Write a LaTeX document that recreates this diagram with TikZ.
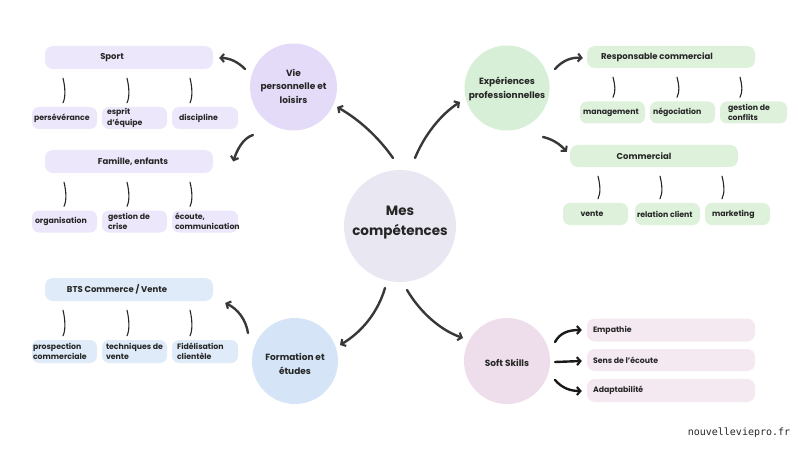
\documentclass[tikz,border=0pt]{standalone}
\usepackage{fontspec}
\setmainfont{Poppins}
\newfontfamily\wmfont{DejaVu Sans Mono}
\usetikzlibrary{arrows.meta,calc}
\definecolor{ink}{HTML}{262626}
\definecolor{arrowc}{HTML}{383838}
\definecolor{arrowk}{HTML}{1A1A1A}
\definecolor{centerc}{HTML}{E9E8F2}
\definecolor{purC}{HTML}{E4DBF8}
\definecolor{purB}{HTML}{ECE7FA}
\definecolor{grnC}{HTML}{D6EFD6}
\definecolor{grnB}{HTML}{DDF1DB}
\definecolor{bluC}{HTML}{D5E5F7}
\definecolor{bluB}{HTML}{DFEBF8}
\definecolor{pnkC}{HTML}{EEDDEA}
\definecolor{pnkB}{HTML}{F4E8F1}
\newcommand\sublink[3]{%
  \path ($(#3,0 |- #1.south)+(0,9)$) coordinate (lt)
        ($(#3,0 |- #2.north)+(0,-4)$) coordinate (lb);
  \draw[link] (lt) .. controls +(2,8) and +(3,-6) .. (lb);}
\begin{document}
\begin{tikzpicture}[x=1pt,y=-1pt,
  circ/.style={circle, minimum size=#1, inner sep=0pt},
  bigbox/.style={rectangle, rounded corners=8pt, minimum width=168pt, minimum height=23pt, inner sep=0pt},
  subbox/.style={rectangle, rounded corners=7pt, minimum width=65pt, minimum height=22pt, inner sep=0pt},
  lbl/.style={font=\bfseries\fontsize{8.5}{13}\selectfont, text=ink, inner sep=0pt, align=center},
  clbl/.style={lbl, font=\bfseries\fontsize{9}{13.5}\selectfont},
  sublbl/.style={font=\bfseries\fontsize{7.8}{10.5}\selectfont, text=ink, inner sep=0pt, align=left, anchor=west},
  arr/.style={draw=arrowc, line width=2.4pt, line cap=round, -{Straight Barb[length=3.5pt,width=8pt,line width=2.1pt]}},
  arrk/.style={arr, draw=arrowk},
  link/.style={draw=ink, line width=1.1pt, line cap=round}]
\useasboundingbox (0,0) rectangle (800,449);
\fill[white] (0,0) rectangle (800,449);

% circles
\node[circ=112pt, fill=centerc] (c) at (400,226) {};
\node[lbl, font=\bfseries\fontsize{13.5}{20}\selectfont] (ct) at (400,223) {Mes\\compétences};
\node[circ=87pt, fill=purC] (vie) at (293.5,87) {};
\node[clbl] at (293.5,86) {Vie\\personnelle et\\loisirs};
\node[circ=85pt, fill=grnC] (exp) at (507,88) {};
\node[clbl] at (507,89) {Expériences\\professionnelles};
\node[circ=86pt, fill=bluC] (form) at (295,361) {};
\node[clbl] at (295,364) {Formation et\\études};
\node[circ=86pt, fill=pnkC] (soft) at (507,361) {};
\node[clbl] at (507,363) {Soft Skills};

% purple group
\node[bigbox, fill=purB] (sport) at (129,57.5) {};
\node[lbl] at (112,57.5) {Sport};
\node[subbox, fill=purB] (persev) at (64.5,118) {};
\node[subbox, fill=purB] (esprit) at (134.5,118) {};
\node[subbox, fill=purB, minimum width=66pt] (discip) at (205,118) {};
\node[sublbl] at ([shift={(2,0)}]persev.west) {persévérance};
\node[sublbl] at ([shift={(5,0)}]esprit.west) {esprit\\d’équipe};
\node[sublbl] at ([shift={(7,0)}]discip.west) {discipline};
\sublink{sport}{persev}{63}
\sublink{sport}{esprit}{127}
\sublink{sport}{discip}{190}

\node[bigbox, fill=purB] (fam) at (129,161.5) {};
\node[lbl] at (133,161.5) {Famille, enfants};
\node[subbox, fill=purB] (orga) at (64.5,221.5) {};
\node[subbox, fill=purB] (crise) at (134.5,221.5) {};
\node[subbox, fill=purB, minimum width=66pt] (ecoute) at (205,221.5) {};
\node[sublbl] at ([shift={(3,0)}]orga.west) {organisation};
\node[sublbl] at ([shift={(6,0)}]crise.west) {gestion de\\crise};
\node[sublbl] at ([shift={(3,0)}]ecoute.west) {écoute,\\communication};
\sublink{fam}{orga}{64}
\sublink{fam}{crise}{127}
\sublink{fam}{ecoute}{190}

% green group
\node[bigbox, fill=grnB, minimum height=22pt] (resp) at (671,57) {};
\node[lbl] at (657,57) {Responsable commercial};
\node[subbox, fill=grnB] (mgmt) at (612.5,112.5) {};
\node[subbox, fill=grnB] (nego) at (682.5,112.5) {};
\node[subbox, fill=grnB, minimum width=67pt] (confl) at (753.5,112.5) {};
\node[sublbl] at ([shift={(3,0)}]mgmt.west) {management};
\node[sublbl] at ([shift={(3,0)}]nego.west) {négociation};
\node[sublbl] at ([shift={(8,0)}]confl.west) {gestion de\\conflits};
\sublink{resp}{mgmt}{613}
\sublink{resp}{nego}{677}
\sublink{resp}{confl}{740}

\node[bigbox, fill=grnB, minimum height=22pt] (comm) at (654,156) {};
\node[lbl] at (644,156) {Commercial};
\node[subbox, fill=grnB] (vente) at (595.5,214) {};
\node[subbox, fill=grnB] (relc) at (667.5,214) {};
\node[subbox, fill=grnB] (mkt) at (737.5,214) {};
\node[sublbl, anchor=center] at (592,214) {vente};
\node[sublbl] at ([shift={(2,0)}]relc.west) {relation client};
\node[sublbl] at ([shift={(7,0)}]mkt.west) {marketing};
\sublink{comm}{vente}{598}
\sublink{comm}{relc}{660}
\sublink{comm}{mkt}{722}

% blue group
\node[bigbox, fill=bluB] (bts) at (129,289.5) {};
\node[lbl] at (117,289.5) {BTS Commerce / Vente};
\node[subbox, fill=bluB, minimum height=23pt] (prosp) at (64.5,351.5) {};
\node[subbox, fill=bluB, minimum height=23pt] (tech) at (134.5,351.5) {};
\node[subbox, fill=bluB, minimum height=23pt, minimum width=66pt] (fidel) at (205,351.5) {};
\node[sublbl] at ([shift={(1,0)}]prosp.west) {prospection\\commerciale};
\node[sublbl] at ([shift={(4,0)}]tech.west) {techniques de\\vente};
\node[sublbl] at ([shift={(5,0)}]fidel.west) {Fidélisation\\clientèle};
\sublink{bts}{prosp}{63}
\sublink{bts}{tech}{127}
\sublink{bts}{fidel}{190}

% pink group
\node[bigbox, fill=pnkB] (emp) at (671,330) {};
\node[bigbox, fill=pnkB, minimum height=22pt] (sens) at (671,360) {};
\node[bigbox, fill=pnkB] (adapt) at (671,390.5) {};
\node[sublbl] at ([shift={(6,0)}]emp.west) {Empathie};
\node[sublbl] at ([shift={(6,0)}]sens.west) {Sens de l’écoute};
\node[sublbl] at ([shift={(6,0)}]adapt.west) {Adaptabilité};

% arrows
\draw[arr] ([shift={(-7,-68)}]c.center) .. controls (379,138) and (360,120) .. ([shift={(43.5,20)}]vie.center);
\draw[arr] ([shift={(15,-68)}]c.center) .. controls (424,136) and (440,115) .. ([shift={(-47,14)}]exp.center);
\draw[arr] ([shift={(-15,62)}]c.center) .. controls (378,312) and (362,332) .. ([shift={(45,-16)}]form.center);
\draw[arr] ([shift={(7,64)}]c.center) .. controls (420,312) and (440,330) .. ([shift={(-44,-23)}]soft.center);
\draw[arr] ([shift={(-48.5,-18)}]vie.center) .. controls (238,62) and (230,58) .. ([shift={(6,0.5)}]sport.east);
\draw[arr] ([shift={(-40.5,48)}]vie.center) .. controls (243,138) and (237,150) .. ([shift={(20,0)}]fam.east);
\draw[arr] ([shift={(48,-19)}]exp.center) .. controls (562,61) and (571,57) .. ([shift={(-4,1)}]resp.west);
\draw[arr] ([shift={(36,49)}]exp.center) .. controls (552,139) and (560,144) .. ([shift={(-3,-4)}]comm.west);
\draw[arr] ([shift={(-47,-28)}]form.center) .. controls (246,320) and (238,309) .. ([shift={(12,13.5)}]bts.east);
\draw[arrk] ([shift={(48,-19)}]soft.center) .. controls (560,333) and (568,330) .. ([shift={(-5,0)}]emp.west);
\draw[arrk] ([shift={(48,1)}]soft.center) -- ([shift={(-5,1)}]sens.west);
\draw[arrk] ([shift={(48,19)}]soft.center) .. controls (562,388) and (570,391) .. ([shift={(-5,0.5)}]adapt.west);

% watermark
\node[font=\wmfont\fontsize{10}{12}\selectfont, text=ink, inner sep=0pt] (wm) at (739,433) {nouvelleviepro.fr};
\end{tikzpicture}
\end{document}
